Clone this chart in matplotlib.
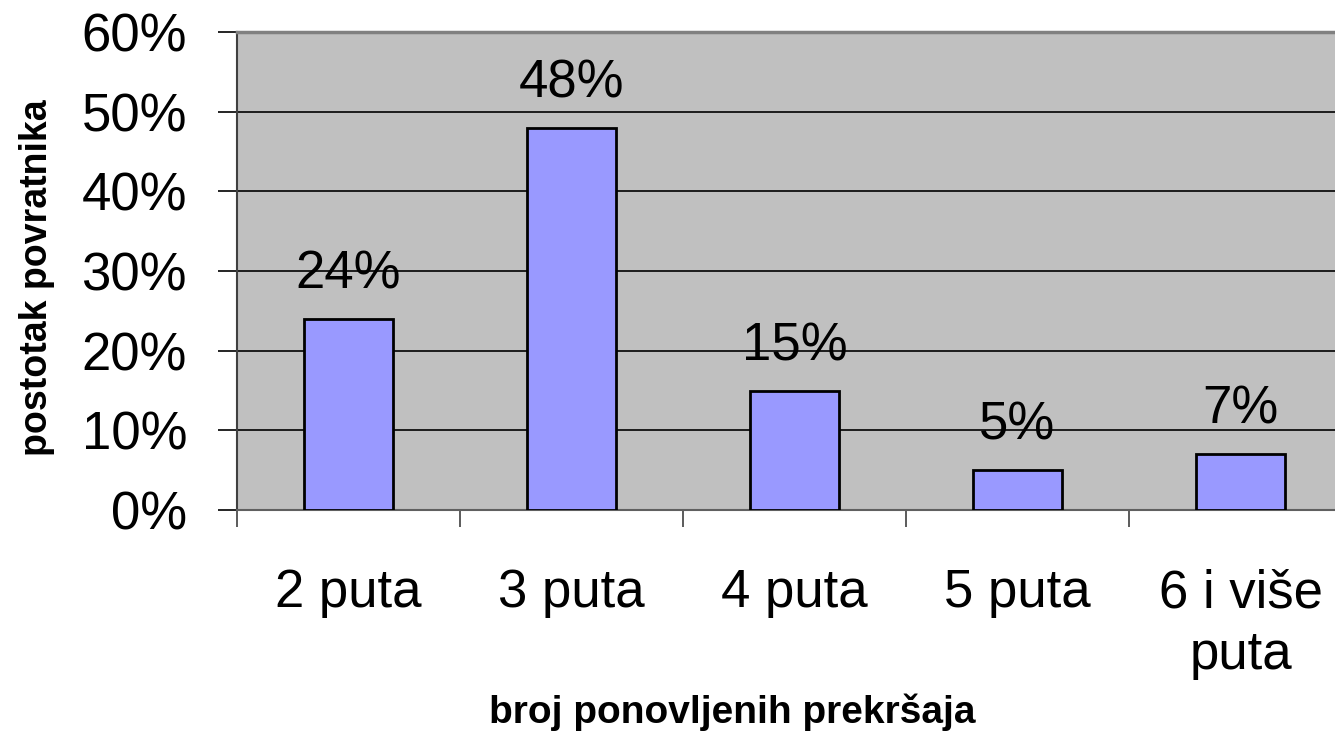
import matplotlib.pyplot as plt
from matplotlib.ticker import FixedLocator, NullFormatter

plt.rcParams["font.family"] = ["Liberation Sans", "DejaVu Sans"]

# ---- DATA ----
categories = ["2 puta", "3 puta", "4 puta", "5 puta", "6 i više\nputa"]
values = [24, 48, 15, 5, 7]
value_labels = ["24%", "48%", "15%", "5%", "7%"]
y_ticks = [0, 10, 20, 30, 40, 50, 60]

# ---- CHART ----
fig = plt.figure(figsize=(13.35, 7.31), dpi=100)
ax = fig.add_axes([237 / 1335, 221 / 731, 1 - 237 / 1335, 478 / 731])

ax.set_facecolor("#c0c0c0")
ax.set_axisbelow(True)
ax.yaxis.grid(True, color="black", linewidth=1.2)

x = list(range(len(categories)))
ax.bar(x, values, width=0.4, color="#9999ff", edgecolor="black", linewidth=2, zorder=3)

for xi, v, lab in zip(x, values, value_labels):
    ax.annotate(lab, (xi, v), xytext=(0, 14), textcoords="offset points",
                ha="center", va="bottom", fontsize=38)

ax.set_xlim(-0.5, -0.5 + 1098 / 223)
ax.set_ylim(0, 60)

ax.yaxis.set_major_locator(FixedLocator(y_ticks))
ax.set_yticklabels([str(t) + "%" for t in y_ticks], fontsize=38)
ax.tick_params(axis="y", length=14, width=1.2, color="black", pad=22)

# x ticks at category boundaries, labels at centres
ax.xaxis.set_major_locator(FixedLocator([i - 0.5 for i in range(len(categories))]))
ax.xaxis.set_major_formatter(NullFormatter())
ax.xaxis.set_minor_locator(FixedLocator(x))
ax.set_xticklabels(categories, minor=True, fontsize=38, linespacing=1.3)
ax.tick_params(axis="x", which="major", length=12, width=1.2, color="#404040")
ax.tick_params(axis="x", which="minor", length=0, pad=42)

ax.spines["right"].set_visible(False)
ax.spines["top"].set_color("#808080")
ax.spines["top"].set_linewidth(2.5)
ax.spines["left"].set_color("#404040")
ax.spines["left"].set_linewidth(1.5)
ax.spines["bottom"].set_color("#606060")
ax.spines["bottom"].set_linewidth(1.5)

fig.text(37 / 1335, 1 - 278 / 731, "postotak povratnika", rotation=90,
         ha="center", va="center", fontsize=27, fontweight="bold")
fig.text(732 / 1335, 1 - 712 / 731, "broj ponovljenih prekršaja",
         ha="center", va="center", fontsize=28, fontweight="bold")

plt.savefig("out.png", dpi=100)
